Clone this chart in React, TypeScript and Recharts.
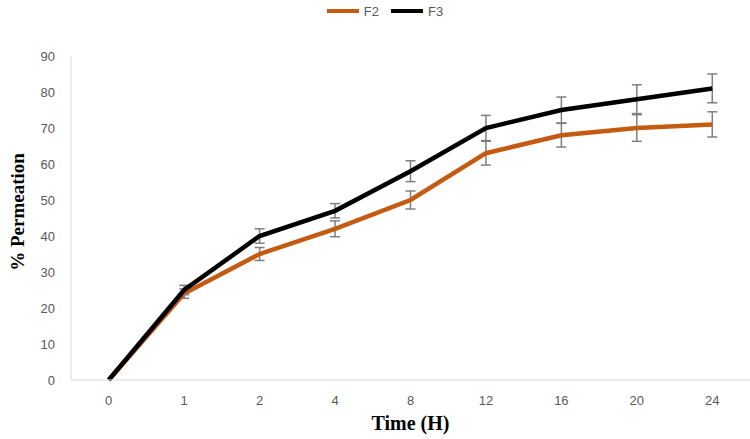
import { ComposedChart, Line, ErrorBar, XAxis, YAxis } from "recharts";

const hours = ["0", "1", "2", "4", "8", "12", "16", "20", "24"];
const f2 = [0, 24, 35, 42, 50, 63, 68, 70, 71];
const f3 = [0, 25, 40, 47, 58, 70, 75, 78, 81];
const f2Err = [0, 1.3, 1.8, 2.2, 2.5, 3.3, 3.3, 3.7, 3.5];
const f3Err = [0, 1.3, 2, 2, 2.9, 3.5, 3.6, 4, 4];
const yTicks = [0, 10, 20, 30, 40, 50, 60, 70, 80, 90];

const data = hours.map((h, i) => ({ h, f2: f2[i], f3: f3[i], f2Err: f2Err[i], f3Err: f3Err[i] }));

const tickStyle = { fill: "#595959", fontSize: 13, fontFamily: "Liberation Sans, Arial, sans-serif" };
const titleFont = "Liberation Serif, Times New Roman, serif";

function LegendItem({ color, name }: { color: string; name: string }) {
  return (
    <span style={{ display: "inline-flex", alignItems: "center", marginRight: 12 }}>
      <span style={{ display: "inline-block", width: 32, height: 4, background: color, marginRight: 5 }} />
      <span>{name}</span>
    </span>
  );
}

export default function App() {
  return (
    <div style={{ position: "absolute", left: 0, top: 0, width: 750, height: 439, background: "#fff" }}>
      <div
        style={{
          position: "absolute",
          top: 0,
          left: 0,
          width: 750,
          textAlign: "center",
          fontFamily: "Liberation Sans, Arial, sans-serif",
          fontSize: 13,
          color: "#595959",
          lineHeight: "17px",
          paddingLeft: 16,
        }}
      >
        <LegendItem color="#c55a11" name="F2" />
        <LegendItem color="#000000" name="F3" />
      </div>
      <ComposedChart width={750} height={439} data={data} margin={{ top: 56, right: 0, bottom: 0, left: 0 }}>
        <XAxis
          dataKey="h"
          scale="band"
          tick={tickStyle}
          tickLine={false}
          tickMargin={10}
          axisLine={{ stroke: "#d9d9d9" }}
          height={59}
          label={{
            content: ({ viewBox }: any) => (
              <text
                x={viewBox.x + viewBox.width / 2}
                y={430}
                textAnchor="middle"
                fontFamily={titleFont}
                fontWeight="bold"
                fontSize={20}
                fill="#000"
              >
                Time (H)
              </text>
            ),
          }}
        />
        <YAxis
          domain={[0, 90]}
          ticks={yTicks}
          tick={tickStyle}
          tickLine={false}
          tickMargin={10}
          axisLine={{ stroke: "#d9d9d9" }}
          width={71}
          label={{
            content: () => (
              <text
                x={24}
                y={212}
                textAnchor="middle"
                transform="rotate(-90, 24, 212)"
                fontFamily={titleFont}
                fontWeight="bold"
                fontSize={19}
                fill="#000"
              >
                % Permeation
              </text>
            ),
          }}
        />
        <Line dataKey="f2" stroke="#c55a11" strokeWidth={4.5} dot={false} isAnimationActive={false}>
          <ErrorBar dataKey="f2Err" stroke="#7f7f7f" strokeWidth={1.5} width={5} />
        </Line>
        <Line dataKey="f3" stroke="#000000" strokeWidth={4.5} dot={false} isAnimationActive={false}>
          <ErrorBar dataKey="f3Err" stroke="#7f7f7f" strokeWidth={1.5} width={5} />
        </Line>
      </ComposedChart>
    </div>
  );
}
